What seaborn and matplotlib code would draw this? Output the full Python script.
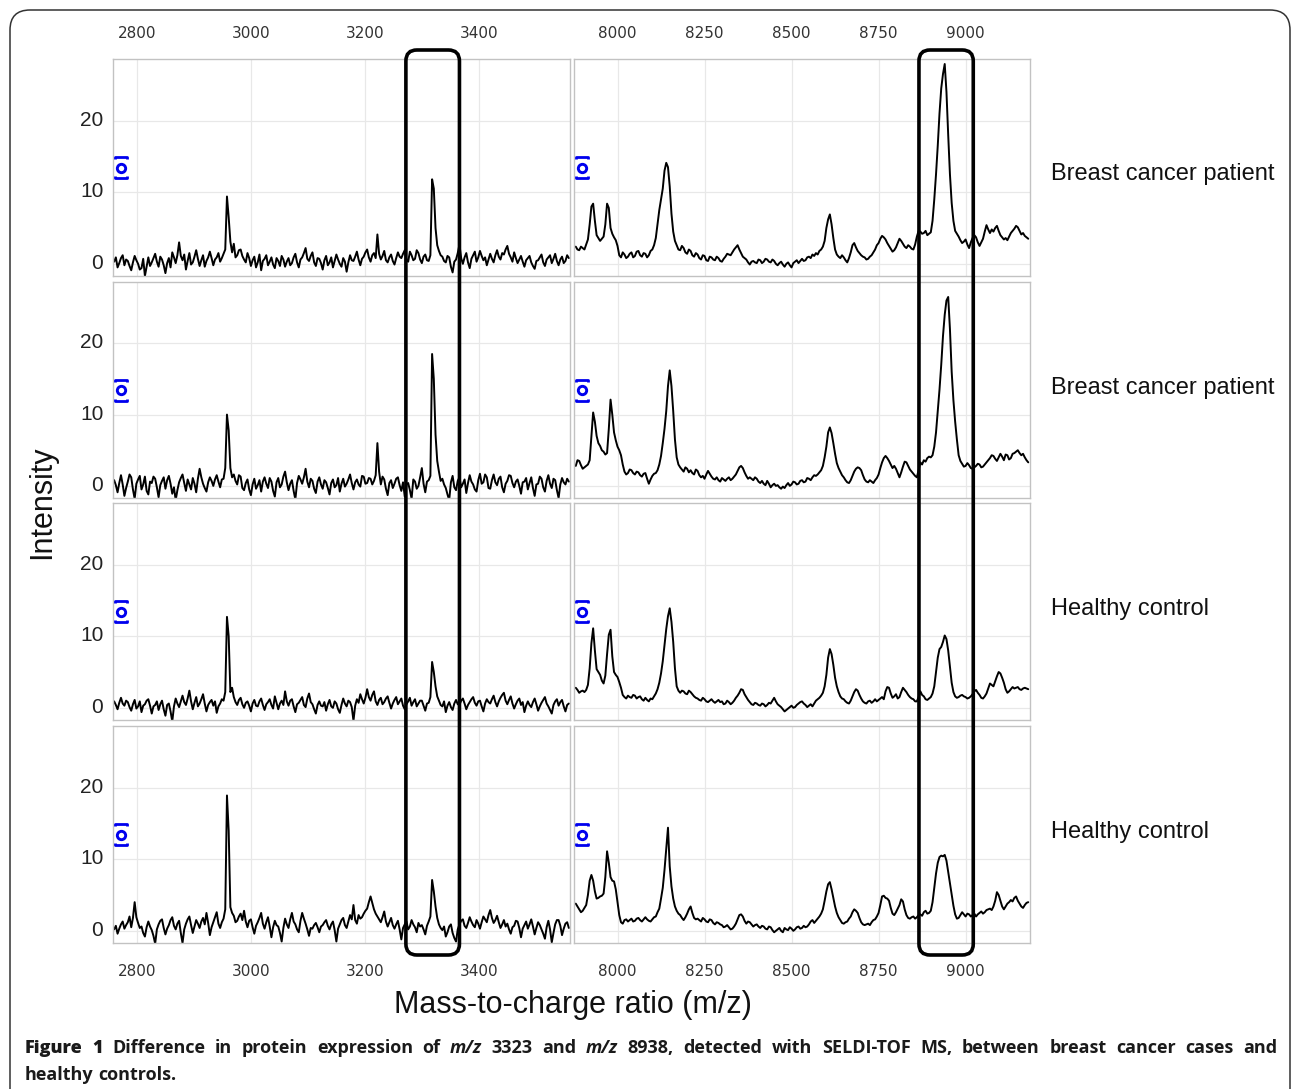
import numpy as np
import pandas as pd
import matplotlib
matplotlib.use('Agg')
import matplotlib.pyplot as plt
import seaborn as sns
from matplotlib.patches import FancyBboxPatch
from matplotlib.transforms import offset_copy, IdentityTransform, ScaledTranslation

W, H = 1292, 1089

#%%
## spectra (intensity per m/z point)
low_mz = np.arange(2760, 3559, 3)      # 2760 ~ 3558
high_mz = np.arange(7880, 9181, 5)     # 7880 ~ 9180

patient1_low = [0.3, 0.9, -0.5, 0.1, 0.8, 1.2, -0.2, 0.6, 0.4, -0.3, -0.9, 0.2, 1.1, 0.5, 0.0, -0.8, -0.6, 0.7, -1.7, -0.4,
                0.9, -0.3, 0.2, 0.8, 1.4, 0.3, -0.4, 1.0, 0.6, -0.2, -1.3, 0.1, 0.8, -0.5, 1.6, 0.9, 0.1, 1.2, 3.0, 1.1,
                0.5, 1.3, -0.8, 0.4, 1.5, -0.1, 0.2, 1.0, 1.9, 0.7, -0.3, 0.5, 1.2, -0.4, 0.4, 0.9, 1.7, 0.8, -0.2, 0.6,
                0.9, 1.5, 0.3, 0.8, 1.4, 2.0, 9.4, 6.5, 3.1, 1.6, 2.8, 0.9, 1.2, 1.9, 2.0, 1.1, 0.6, 0.2, 1.5, 0.8,
                -0.3, 0.5, 1.0, -0.5, 0.2, 1.3, -0.9, 0.4, 0.7, 1.2, -0.2, 0.3, 0.9, -0.1, -0.6, 0.8, 0.4, -0.3, 1.1, 0.6,
                -0.4, 0.3, 0.8, -0.2, 0.1, 0.9, 1.4, 0.2, -0.5, 0.6, 0.9, 1.5, 2.2, 0.7, 0.4, 1.1, 1.6, 0.2, -0.3, 0.8,
                0.7, 0.1, -0.8, 0.5, 1.1, -0.2, 0.2, 0.9, -0.5, 0.4, 1.3, 0.6, 0.0, -0.4, 0.8, 0.3, -1.1, 0.2, 1.2, 0.5,
                0.4, 1.0, 1.7, 0.6, -0.2, 0.7, 1.0, 1.6, 2.0, 0.9, 0.3, 1.2, 1.5, 0.8, 4.1, 1.4, 0.6, 1.1, 1.8, 0.5,
                0.2, 0.9, 1.3, 0.4, -0.1, 0.8, 1.6, 1.0, 0.8, 1.4, 1.9, 0.6, 0.3, 1.7, 1.2, 0.5, 0.7, 1.9, 1.5, 0.6,
                0.1, 1.0, 1.3, 0.5, 0.4, 1.2, 11.8, 10.5, 5.0, 2.6, 1.8, 1.2, 1.0, 0.4, 0.2, 1.1, 0.9, -0.4, -1.2, 0.3,
                0.6, 1.5, 2.7, 0.8, 0.0, 0.9, 1.5, 0.2, -0.6, 0.7, 1.2, 1.7, 0.3, 0.9, 1.8, 1.1, 0.5, 0.9, -0.2, 0.6,
                1.4, 0.7, 0.2, 1.2, 1.9, 1.0, 0.6, 1.5, 1.3, 2.0, 2.5, 1.4, 0.9, 0.3, 1.6, 0.8, 0.1, 0.6, 1.1, 0.3,
                -0.4, 0.5, 0.8, 1.1, 0.2, -0.3, -0.7, 0.4, 0.5, 0.9, 1.3, 0.2, -0.3, 0.6, 0.9, 1.2, 0.1, 0.7, 1.4, 0.4,
                -0.2, 0.6, 1.0, 0.1, 0.4, 1.2, 0.8]

patient2_low = [0.8, 0.1, -0.9, 0.4, 1.5, 0.2, -1.4, -0.3, 0.6, 1.6, 1.2, -0.5, -1.8, 0.3, 0.9, 1.4, -0.5, 0.2, 1.3, -0.7,
                -1.2, 0.6, 0.4, 1.3, 1.0, -0.2, -1.6, 0.1, 0.7, 1.2, -0.4, 0.8, 1.4, 0.3, -1.1, -0.2, -2.0, -0.6, 0.5, 1.1,
                1.6, 0.4, -0.7, 0.9, 0.2, -0.5, 1.1, 0.3, -0.9, 1.0, 2.4, 1.2, 0.3, -0.3, -0.8, 0.5, 1.2, 0.7, 0.0, 0.9,
                1.5, 0.6, -0.2, 0.9, 1.0, 2.5, 10.0, 7.8, 2.5, 1.2, 1.6, 0.7, 0.2, 1.5, 1.3, -0.3, -0.6, 0.4, 0.9, -0.5,
                -1.3, 0.2, 1.0, -0.4, 0.1, 0.8, -0.8, 0.6, 1.2, 0.3, -0.3, 1.1, 0.6, -0.7, -1.5, 0.5, 1.1, -0.2, 0.2, 1.3,
                2.0, 0.5, -0.6, 0.3, 0.8, -0.7, -1.9, 0.4, 1.4, 0.9, 0.3, 1.2, 2.4, 0.6, -0.2, 1.0, 0.7, -0.4, -1.0, 0.6,
                1.2, 0.2, -0.4, 0.8, 0.5, -0.3, -1.2, 0.4, 0.9, -0.2, 0.1, 1.1, -0.8, 0.3, 1.0, -0.1, 0.3, 0.9, 1.6, 0.4,
                -0.5, 0.5, 0.9, 0.2, -0.1, 1.4, 1.3, 0.3, 0.4, 1.1, 1.0, 0.2, 0.7, 1.5, 6.0, 2.0, 0.2, 1.3, 0.9, -0.4,
                -1.3, 0.4, 0.8, -0.3, 0.3, 1.0, 1.2, 0.1, -0.7, 0.5, -1.5, 0.2, 0.4, -0.6, -1.8, 0.9, 0.6, -0.4, 0.0, 1.2,
                2.5, 0.3, -0.9, 0.6, 0.8, 1.4, 18.5, 15.0, 7.2, 3.5, 2.0, 0.7, 1.0, 0.2, -0.3, -1.2, -2.0, 0.5, 1.4, -0.2,
                -0.6, 0.7, 1.2, -0.2, 0.3, 0.9, -1.0, 0.4, 1.5, 0.6, 0.2, -0.5, -0.8, 0.8, 1.7, 0.3, 0.5, 1.6, 1.2, -0.3,
                -0.4, 0.8, 1.6, 0.5, 0.1, 1.0, 1.3, -0.2, -0.9, 0.3, 0.7, 1.5, 1.4, 0.4, -0.2, 0.6, 0.9, 0.0, -1.1, 0.5,
                0.6, 1.1, -0.5, 0.4, 1.2, -0.3, -1.4, 0.2, 0.3, 1.3, 1.0, -0.2, -0.8, 0.7, 1.5, 0.3, -0.3, 1.0, 0.8, -0.6,
                -1.7, 0.2, 1.1, 0.5, 0.2, 1.0, 0.6]

control1_low = [0.9, 0.4, -0.2, 0.7, 1.4, 0.6, 0.3, 1.0, 0.8, 0.1, -0.4, 0.5, 1.1, -0.1, 0.2, 0.9, -0.6, 0.3, 0.5, 1.0,
                1.2, 0.3, -0.8, 0.2, 0.4, 0.9, -0.3, 0.5, 1.0, -0.2, -1.1, 0.4, 0.6, -0.5, -1.9, 0.2, 1.3, 0.6, 0.1, 0.9,
                1.7, 0.8, 0.4, 1.3, 2.4, 0.9, -0.2, 0.7, 1.5, 0.2, 0.6, 1.2, 1.9, 0.6, -0.5, 0.4, 0.8, 1.1, 0.3, 0.9,
                -0.7, 0.2, 0.6, 1.2, 1.0, 2.2, 12.7, 10.0, 2.2, 2.8, 1.5, 0.8, 0.4, 1.1, 1.4, 0.5, 0.0, 0.7, 0.9, 0.3,
                -0.5, 0.6, 1.1, 0.3, 0.2, 0.9, 1.3, 0.4, -0.3, 0.5, 0.8, 1.2, 0.4, -0.1, 1.6, 0.7, -0.2, 0.6, 1.0, 0.4,
                2.3, 0.9, 0.3, 1.0, 1.2, 0.2, -0.6, 0.5, 0.7, 1.1, 1.5, 0.4, 0.1, 1.3, 2.0, 0.8, 0.5, -0.2, -0.8, 0.4,
                0.9, 0.3, 0.2, 0.8, -0.4, 0.5, 1.1, 0.2, 0.0, 0.9, 0.6, -0.2, -0.7, 0.4, 1.3, 0.6, 0.2, 1.0, 0.8, 0.1,
                -1.8, 0.3, 1.2, 0.7, 1.9, 1.2, 0.6, 1.4, 2.6, 1.5, 1.0, 1.8, 2.3, 0.9, 0.4, 1.1, 1.4, 0.5, 0.8, 1.3,
                1.6, 0.7, -0.1, 0.6, 1.1, 1.5, 0.5, 0.9, 1.3, 0.3, -0.2, 0.5, 0.9, 1.4, 0.3, 0.8, 1.2, 0.2, 0.6, 1.0,
                1.0, 0.3, -0.4, 0.6, 0.7, 1.5, 6.4, 5.0, 3.0, 1.6, 1.0, 0.4, 0.2, 0.9, -0.6, 0.3, 0.8, 0.1, -0.3, 0.6,
                1.1, 0.5, 0.4, 1.0, 1.3, 0.6, -0.2, 0.4, 0.8, 1.2, 1.5, 0.7, 0.3, 0.9, 1.0, 0.2, -0.5, 0.6, 1.2, 0.8,
                0.6, 1.2, 1.7, 0.8, 0.2, 0.9, 1.4, 1.8, 2.1, 1.0, 0.5, 1.1, 1.6, 0.6, -0.1, 0.5, 1.0, 1.3, 0.4, 0.8,
                -0.6, 0.3, 0.9, 0.4, 0.1, 0.8, 1.3, 0.5, -0.4, 0.2, 0.7, 1.1, 1.5, 0.6, 0.2, -0.3, -0.8, 0.4, 0.9, 1.2,
                0.3, 0.8, 1.1, 0.2, -0.5, 0.4, 0.6]

control2_low = [0.2, 0.7, -0.4, 0.3, 0.9, 1.3, 0.3, 0.8, 1.2, 2.0, 0.5, 1.8, 4.0, 1.9, 1.1, 0.4, 0.6, -0.3, -0.8, 0.5,
                1.3, 0.6, 0.1, -0.7, -1.8, 0.2, 0.9, 1.4, 1.6, 0.4, -0.5, 0.3, 0.8, 1.5, 1.9, 0.7, 0.2, 1.0, 1.4, -0.3,
                -1.7, 0.2, 1.0, 1.6, 2.0, 0.8, -0.3, 0.6, 1.5, 1.0, 0.4, 1.3, 1.8, 0.9, 2.5, 1.1, -0.6, 0.5, 1.2, 1.9,
                2.6, 1.0, 0.4, 1.2, 1.7, 3.0, 18.9, 14.0, 3.3, 2.5, 2.1, 1.2, 1.4, 2.0, 2.4, 1.5, 2.8, 1.3, 0.5, 1.4,
                1.6, 0.5, -0.4, 0.7, 1.2, 1.8, 2.5, 1.0, 0.3, 1.2, 1.9, 0.6, -0.9, 0.5, 1.4, 0.8, 0.6, -0.3, -1.5, 0.4,
                1.7, 0.9, 0.4, 1.6, 2.5, 1.3, 0.9, 0.2, -0.2, 1.4, 2.5, 1.7, 1.0, 0.2, -0.7, 0.4, 0.3, 0.8, 1.1, 0.5,
                -0.2, 0.6, 0.8, 1.2, 1.5, 0.7, 0.2, 0.9, 1.3, 0.1, -1.5, 0.3, 0.9, 1.5, 1.8, 0.8, 0.4, 1.3, 2.2, 1.6,
                3.6, 1.5, 1.0, 2.2, 1.7, 1.9, 2.4, 2.8, 3.1, 4.0, 4.8, 3.9, 3.0, 2.4, 2.0, 1.6, 1.2, 1.9, 2.7, 1.3,
                0.6, 1.2, 1.8, 0.8, 0.3, 0.9, 1.4, 0.2, -1.2, 0.4, 0.9, 1.3, 0.2, 0.6, 1.5, 0.9, 0.5, -0.2, 1.1, 0.6,
                0.8, 0.2, -0.5, 0.7, 1.3, 2.0, 7.1, 5.5, 3.4, 1.8, 0.9, 0.4, 0.1, 0.6, -0.8, -0.2, 0.6, 0.9, -0.3, -1.0,
                -1.5, 0.2, 0.9, 1.4, 1.6, 0.7, 0.4, 1.1, 1.9, 1.3, 0.8, 0.5, 1.5, 1.0, 0.3, 1.2, 2.0, 1.6, 1.2, 2.2,
                2.9, 1.8, 1.1, 1.5, 2.1, 1.2, 0.4, 0.9, 1.5, 0.6, 1.0, 0.2, -0.4, 0.5, 0.7, 1.4, 1.3, 0.4, -0.9, 0.3,
                0.8, 1.3, 0.3, 0.9, 1.6, 0.6, -0.5, 0.4, 1.2, 0.8, 0.2, -0.4, -1.1, 0.5, 1.4, 0.2, -1.6, -0.3, 0.9, 1.5,
                1.5, 0.7, -0.6, 0.3, 1.0, 1.2, 0.4]

patient1_high = [2.4, 2.0, 1.9, 2.4, 2.2, 2.0, 2.7, 3.4, 5.5, 8.0, 8.4, 6.0, 4.0, 3.6, 3.2, 3.5, 3.8, 5.5, 8.4, 7.8,
                 5.0, 4.2, 3.7, 3.3, 2.5, 1.2, 0.9, 1.6, 1.3, 0.8, 1.0, 1.4, 1.6, 0.9, 1.1, 1.7, 1.8, 1.2, 1.0, 1.5,
                 1.4, 0.9, 1.2, 1.8, 2.0, 2.6, 3.6, 5.5, 7.5, 9.0, 10.5, 13.0, 14.1, 13.5, 10.8, 7.0, 4.5, 3.2, 2.6, 2.0,
                 1.9, 2.5, 2.2, 1.6, 1.4, 2.0, 1.8, 1.2, 1.0, 1.5, 1.3, 0.8, 0.6, 1.2, 1.1, 0.5, 0.4, 1.0, 0.9, 0.6,
                 0.5, 1.0, 0.8, 0.4, 0.3, 0.7, 1.0, 1.4, 1.3, 1.2, 1.6, 2.0, 2.3, 2.6, 2.0, 1.5, 1.0, 0.8, 0.6, 0.2,
                 -0.1, 0.3, 0.4, 0.2, 0.1, 0.6, 0.5, 0.1, 0.3, 0.7, 0.6, 0.3, 0.2, 0.6, 0.4, 0.0, -0.2, 0.1, 0.3, -0.1,
                 -0.4, 0.0, 0.2, -0.2, -0.5, 0.1, 0.3, 0.5, 0.1, 0.4, 0.7, 0.4, 0.5, 0.9, 1.0, 0.8, 1.3, 1.1, 1.5, 1.3,
                 1.8, 2.0, 2.4, 3.2, 5.0, 6.2, 6.9, 5.5, 3.6, 2.0, 1.3, 1.0, 0.8, 1.2, 0.9, 0.5, 0.2, 0.8, 1.6, 2.6,
                 2.9, 2.3, 1.8, 1.5, 1.2, 1.0, 0.9, 0.6, 0.7, 1.0, 1.2, 1.6, 2.0, 2.6, 2.9, 3.5, 3.9, 3.7, 3.4, 2.9,
                 2.5, 2.1, 1.7, 1.9, 2.3, 2.9, 3.5, 3.2, 2.8, 2.4, 2.2, 2.6, 2.4, 2.1, 2.0, 2.7, 3.8, 4.6, 4.5, 4.2,
                 4.3, 4.6, 4.0, 4.2, 4.4, 6.0, 9.0, 12.5, 16.5, 21.0, 24.5, 26.5, 27.9, 24.0, 18.0, 12.5, 8.5, 6.0, 4.6, 4.2,
                 3.8, 3.3, 2.9, 3.1, 3.4, 2.7, 2.2, 3.0, 3.6, 4.0, 3.7, 3.0, 2.5, 3.0, 3.5, 4.5, 5.4, 4.8, 4.3, 4.8,
                 4.5, 5.0, 5.3, 4.6, 4.0, 3.7, 3.4, 3.6, 3.3, 3.8, 4.3, 4.6, 4.9, 5.3, 5.1, 4.6, 4.1, 4.3, 3.9, 3.7,
                 3.5]

patient2_high = [2.8, 3.6, 3.5, 2.9, 2.4, 2.6, 2.8, 3.0, 3.6, 7.0, 10.3, 9.0, 7.0, 6.0, 5.6, 5.0, 4.8, 4.4, 4.6, 8.0,
                 12.1, 10.0, 7.5, 6.4, 5.5, 5.0, 4.3, 3.0, 2.0, 1.6, 1.8, 2.3, 2.2, 1.8, 1.6, 2.0, 1.9, 1.5, 1.3, 1.7,
                 1.8, 1.0, 0.3, 0.9, 1.4, 1.7, 1.8, 2.2, 3.0, 4.2, 6.0, 8.0, 10.5, 14.0, 16.2, 14.0, 10.5, 6.5, 4.0, 3.0,
                 2.6, 2.3, 2.0, 2.6, 2.4, 1.9, 2.2, 1.8, 1.6, 2.3, 2.1, 1.5, 1.2, 1.4, 1.0, 1.6, 2.1, 1.7, 1.3, 1.0,
                 0.9, 1.2, 0.8, 0.6, 1.1, 0.9, 0.7, 1.0, 1.2, 0.8, 1.0, 1.3, 1.6, 2.1, 2.6, 2.8, 2.5, 1.9, 1.4, 1.0,
                 1.2, 1.0, 0.8, 1.2, 1.0, 0.6, 0.4, 0.7, 0.3, 0.1, 0.7, 0.3, -0.2, 0.1, 0.3, 0.0, 0.1, -0.2, -0.4, -0.1,
                 -0.3, 0.1, 0.4, 0.0, 0.2, 0.6, 0.5, 0.2, 0.3, 0.7, 0.8, 0.5, 0.6, 1.1, 1.0, 0.8, 1.2, 1.5, 1.4, 1.6,
                 1.9, 2.2, 2.8, 4.0, 5.5, 7.5, 8.2, 7.4, 6.0, 4.5, 3.2, 2.5, 2.0, 1.5, 1.2, 0.8, 0.5, 0.4, 0.8, 1.4,
                 2.0, 2.4, 2.6, 2.5, 2.2, 1.5, 0.9, 0.6, 0.5, 0.8, 0.6, 0.4, 0.8, 1.1, 1.6, 2.5, 3.3, 3.9, 4.2, 3.9,
                 3.5, 3.0, 2.5, 2.8, 2.4, 1.8, 1.2, 1.9, 2.7, 3.4, 3.3, 2.8, 2.3, 2.0, 1.7, 1.4, 1.2, 2.2, 3.3, 3.0,
                 3.6, 3.4, 3.9, 4.1, 4.0, 4.3, 5.5, 7.5, 10.5, 13.5, 17.0, 21.0, 24.0, 26.0, 26.5, 22.0, 16.0, 12.0, 9.0, 6.5,
                 4.3, 3.5, 3.1, 2.7, 2.8, 3.2, 2.9, 2.5, 2.4, 2.6, 2.8, 3.1, 3.0, 2.6, 2.7, 3.0, 3.3, 3.6, 3.9, 4.3,
                 4.2, 3.8, 3.5, 4.0, 4.5, 4.1, 3.6, 4.4, 4.3, 3.7, 3.9, 4.5, 4.6, 4.8, 5.0, 4.6, 4.3, 4.5, 4.0, 3.6,
                 3.3]

control1_high = [2.8, 2.5, 2.1, 2.3, 2.4, 2.2, 2.5, 3.2, 5.5, 9.0, 11.1, 8.0, 5.4, 5.0, 4.6, 3.8, 3.4, 4.5, 7.5, 10.2,
                 10.9, 7.2, 5.0, 4.6, 4.3, 3.6, 2.8, 1.8, 1.5, 1.3, 1.7, 1.5, 1.4, 1.8, 1.7, 1.3, 1.5, 1.6, 1.2, 1.0,
                 1.4, 1.1, 0.9, 1.3, 1.2, 1.6, 2.0, 2.6, 3.5, 4.8, 6.5, 8.8, 11.0, 12.8, 13.9, 12.0, 9.2, 5.5, 3.0, 2.4,
                 2.1, 2.4, 2.3, 2.0, 1.9, 2.4, 2.2, 1.9, 1.6, 1.4, 1.3, 1.1, 1.0, 1.4, 1.2, 0.9, 0.8, 1.0, 1.2, 0.9,
                 0.7, 0.9, 1.1, 0.8, 0.9, 0.5, 0.6, 1.0, 0.8, 0.5, 0.7, 1.0, 1.4, 1.7, 2.1, 2.6, 2.5, 1.9, 1.5, 1.1,
                 0.8, 0.5, 0.4, 0.7, 0.6, 0.4, 0.3, 0.6, 0.5, 0.2, 0.4, 0.7, 0.6, 1.0, 1.4, 0.9, 0.5, 0.3, 0.1, -0.2,
                 -0.5, -0.3, -0.1, 0.1, 0.3, 0.0, 0.1, 0.4, 0.6, 0.8, 0.9, 0.6, 0.4, 0.1, 0.3, 0.5, 0.2, 0.6, 1.0, 1.2,
                 1.4, 1.7, 2.1, 3.0, 4.6, 7.0, 8.2, 7.5, 6.0, 4.2, 3.0, 2.2, 1.6, 1.3, 1.2, 0.9, 0.7, 0.6, 1.0, 1.6,
                 2.2, 2.6, 2.4, 1.8, 1.3, 0.9, 0.7, 0.6, 0.9, 1.0, 0.7, 0.9, 1.2, 0.9, 1.1, 1.3, 1.5, 1.2, 2.3, 2.9,
                 2.8, 2.0, 1.4, 1.6, 1.9, 1.3, 1.5, 2.2, 2.8, 2.5, 2.2, 1.8, 1.5, 1.3, 1.2, 0.9, 0.9, 1.5, 2.3, 1.8,
                 1.6, 1.2, 1.1, 1.3, 1.5, 2.0, 3.0, 5.0, 7.0, 8.2, 8.5, 9.2, 10.1, 9.6, 8.0, 5.8, 3.5, 2.2, 1.6, 1.4,
                 1.5, 1.7, 1.8, 1.6, 1.5, 1.3, 1.4, 1.6, 1.9, 2.3, 2.5, 2.1, 1.8, 1.4, 1.3, 1.6, 2.0, 2.7, 3.4, 3.2,
                 3.0, 3.7, 4.4, 5.0, 4.8, 4.2, 3.5, 2.6, 2.1, 2.3, 2.6, 2.9, 2.7, 2.8, 2.9, 2.6, 2.5, 2.7, 2.8, 2.7,
                 2.6]

control2_high = [3.8, 3.4, 3.0, 2.6, 2.8, 3.2, 3.6, 5.0, 7.0, 7.8, 7.0, 5.5, 4.5, 4.6, 4.8, 4.9, 5.2, 7.5, 11.1, 9.5,
                 7.5, 7.0, 6.9, 5.8, 4.0, 2.2, 1.2, 1.0, 1.5, 1.6, 1.3, 1.5, 1.7, 1.3, 1.4, 1.7, 1.8, 1.5, 1.3, 1.6,
                 1.9, 1.6, 1.4, 1.3, 1.6, 1.9, 2.0, 2.6, 3.1, 4.5, 6.0, 8.5, 11.5, 14.4, 9.0, 6.2, 4.5, 3.4, 2.8, 2.4,
                 2.2, 1.8, 1.5, 1.9, 2.4, 3.0, 3.4, 2.5, 1.8, 1.6, 1.7, 1.5, 1.3, 1.8, 1.6, 1.3, 1.2, 1.6, 1.5, 1.1,
                 0.9, 1.2, 1.1, 0.9, 0.8, 0.5, 0.6, 0.8, 0.5, 0.2, 0.3, 0.6, 1.0, 1.6, 2.2, 2.3, 2.0, 1.4, 1.0, 1.3,
                 1.2, 0.9, 0.6, 0.8, 0.9, 0.6, 0.4, 0.7, 0.6, 0.3, 0.2, 0.6, 0.5, 0.1, -0.2, 0.0, 0.2, 0.4, 0.0, -0.2,
                 0.4, 0.2, 0.1, 0.5, 0.3, 0.0, 0.2, 0.5, 0.6, 0.3, 0.4, 0.7, 0.5, 0.6, 0.9, 1.3, 1.5, 1.1, 1.4, 1.7,
                 2.0, 2.4, 3.0, 4.2, 5.5, 6.5, 6.8, 5.8, 4.6, 3.4, 2.5, 1.9, 1.5, 1.1, 1.0, 1.2, 1.3, 1.7, 2.0, 2.6,
                 3.0, 2.8, 2.5, 1.8, 1.2, 0.9, 0.8, 0.9, 1.0, 0.8, 1.2, 1.5, 1.6, 2.0, 2.5, 3.6, 4.8, 4.9, 4.6, 4.5,
                 4.2, 3.2, 2.4, 2.2, 2.6, 3.1, 3.6, 4.4, 4.1, 3.0, 2.2, 1.8, 1.7, 1.9, 2.0, 1.7, 1.9, 2.2, 2.3, 2.1,
                 2.6, 2.8, 2.4, 2.5, 2.8, 4.0, 6.0, 8.0, 9.5, 10.3, 10.5, 10.4, 10.6, 9.8, 8.2, 6.5, 5.0, 3.5, 2.3, 1.7,
                 1.8, 2.2, 2.6, 2.3, 2.0, 2.4, 2.3, 2.0, 2.2, 2.4, 2.0, 2.3, 2.5, 2.7, 2.4, 2.6, 2.9, 3.0, 3.1, 2.9,
                 3.4, 4.2, 5.4, 5.0, 4.2, 3.4, 3.0, 3.4, 3.8, 4.0, 4.3, 4.1, 4.6, 4.8, 4.2, 3.8, 3.4, 3.2, 3.6, 3.9,
                 4.0]

row_labels = ['Breast cancer patient', 'Breast cancer patient',
              'Healthy control', 'Healthy control']
low_ticks = [2800, 3000, 3200, 3400]
high_ticks = [8000, 8250, 8500, 8750, 9000]
y_ticks = [0, 10, 20]
marked_mz = [3323, 8938]   # m/z in the caption

#%%
## long format table
rows = [(patient1_low, patient1_high), (patient2_low, patient2_high),
        (control1_low, control1_high), (control2_low, control2_high)]
frames = []
for r, (lo, hi) in enumerate(rows):
    assert len(lo) == len(low_mz) and len(hi) == len(high_mz), (r, len(lo), len(hi))
    frames.append(pd.DataFrame({'mz': low_mz, 'intensity': lo, 'row': r, 'col': 0}))
    frames.append(pd.DataFrame({'mz': high_mz, 'intensity': hi, 'row': r, 'col': 1}))
df = pd.concat(frames, ignore_index=True)

#%%
sns.set_theme(style='whitegrid')
plt.rcParams['font.family'] = ['Liberation Sans', 'DejaVu Sans']

fig = plt.figure(figsize=(W / 100, H / 100), dpi=100)

col_px = [(113, 570), (574, 1030)]
row_px = [(59, 276), (282, 498), (503, 720), (726, 943)]
xlims = [(2758, 3560), (7875, 9185)]
xticks = [low_ticks, high_ticks]
box_span = [(-51, 43), (-72, 84)]
label_y = [0.47, 0.51, 0.51, 0.51]

axes = {}
for r, (y0, y1) in enumerate(row_px):
    for c, (x0, x1) in enumerate(col_px):
        ax = fig.add_axes([x0 / W, 1 - y1 / H, (x1 - x0) / W, (y1 - y0) / H])
        sub = df[(df['row'] == r) & (df['col'] == c)]
        sns.lineplot(data=sub, x='mz', y='intensity', ax=ax, color='black',
                     linewidth=1.4, estimator=None)
        ax.set_xlim(*xlims[c])
        ax.set_ylim(-1.7, 28.6)
        ax.set_xticks(xticks[c])
        ax.set_yticks(y_ticks)
        ax.set_xlabel('')
        ax.set_ylabel('')
        ax.grid(True, color='#e8e8e8', linewidth=0.9)
        for sp in ax.spines.values():
            sp.set_color('#c2c2c2')
            sp.set_linewidth(1.0)
        ax.tick_params(axis='x', length=0, pad=(13 if r == 0 else 15), labelsize=11,
                       labelcolor='#333333', labeltop=(r == 0), labelbottom=(r == 3))
        for lab in ax.get_xticklabels():
            lab.set_family('DejaVu Sans')
        ax.tick_params(axis='y', length=0, pad=7, labelsize=15, labelcolor='#222222',
                       labelleft=(c == 0))
        for lab in ax.get_yticklabels():
            lab.set_transform(lab.get_transform() + ScaledTranslation(0, 0.025, fig.dpi_scale_trans))

        # blue zoom icon
        ring_t = offset_copy(ax.transAxes, fig=fig, x=0, y=0, units='dots')
        ax.plot([0.0175], [0.5], marker='o', ms=6, mew=2.1, mfc='white',
                mec='#0000ee', ls='none', transform=ring_t, clip_on=False, zorder=6)
        top_t = offset_copy(ax.transAxes, fig=fig, x=0, y=10.5, units='dots')
        bot_t = offset_copy(ax.transAxes, fig=fig, x=0, y=-10.5, units='dots')
        ax.plot([0.0175], [0.5], marker=[(-1, -0.4), (-1, 0), (1, 0), (1, -0.4)],
                ms=8.5, mew=2.0, mfc='none', mec='#0000ee', ls='none',
                transform=top_t, clip_on=False, zorder=6)
        ax.plot([0.0175], [0.5], marker=[(-1, 0.4), (-1, 0), (1, 0), (1, 0.4)],
                ms=8.5, mew=2.0, mfc='none', mec='#0000ee', ls='none',
                transform=bot_t, clip_on=False, zorder=6)

        if c == 1:
            ax.text(1.046, label_y[r], row_labels[r], transform=ax.transAxes,
                    ha='left', va='center', fontsize=17, color='#111111')
        axes[(r, c)] = ax

#%%
## rounded boxes around the two marked peaks (display pixels)
for c in range(2):
    ax_top = axes[(0, c)]
    xa = ax_top.transData.transform((marked_mz[c] + box_span[c][0], 0))[0]
    xb = ax_top.transData.transform((marked_mz[c] + box_span[c][1], 0))[0]
    y_top = H - 50
    y_bot = H - 955
    fig.patches.append(FancyBboxPatch((xa, y_bot), xb - xa, y_top - y_bot,
                                      boxstyle='round,pad=0,rounding_size=11',
                                      transform=IdentityTransform(), fill=False,
                                      edgecolor='black', linewidth=2.6, zorder=5))

# outer frame
fig.patches.append(FancyBboxPatch((10, -40), W - 12, H - 10 + 40,
                                  boxstyle='round,pad=0,rounding_size=20',
                                  transform=IdentityTransform(), fill=False,
                                  edgecolor='#333333', linewidth=1.1, zorder=1))

fig.text(42 / W, 1 - 502 / H, 'Intensity', rotation=90, ha='center', va='center',
         fontsize=22, color='#111111')
fig.text(573 / W, 1 - 1005 / H, 'Mass-to-charge ratio (m/z)', ha='center', va='center',
         fontsize=22, color='#111111')

#%%
## caption, justified first line
renderer = fig.canvas.get_renderer()

def put_line(words, x0, base, x1=None):
    txts = []
    for w, wt, st in words:
        t = fig.text(0, 0, w, transform=IdentityTransform(), fontsize=13,
                     family=['Open Sans', 'DejaVu Sans'], weight=wt, style=st,
                     ha='left', va='baseline', color='#1a1a1a')
        txts.append(t)
    widths = [t.get_window_extent(renderer).width for t in txts]
    gap = 5.0 if x1 is None else (x1 - x0 - sum(widths)) / (len(txts) - 1)
    x = x0
    for t, w in zip(txts, widths):
        t.set_position((x, base))
        x += w + gap

line1 = [('Figure', 'heavy', 'normal'), ('1', 'heavy', 'normal')]
line1 += [(w, 'bold', 'normal') for w in 'Difference in protein expression of'.split()]
line1 += [('m/z', 'bold', 'italic'), ('3323', 'bold', 'normal'),
          ('and', 'bold', 'normal'), ('m/z', 'bold', 'italic')]
line1 += [(w, 'bold', 'normal') for w in
          '8938, detected with SELDI-TOF MS, between breast cancer cases and'.split()]
put_line(line1, 25, H - 1053, 1277)
put_line([('healthy', 'bold', 'normal'), ('controls.', 'bold', 'normal')], 25, H - 1080)

fig.savefig('out.png', dpi=100)
